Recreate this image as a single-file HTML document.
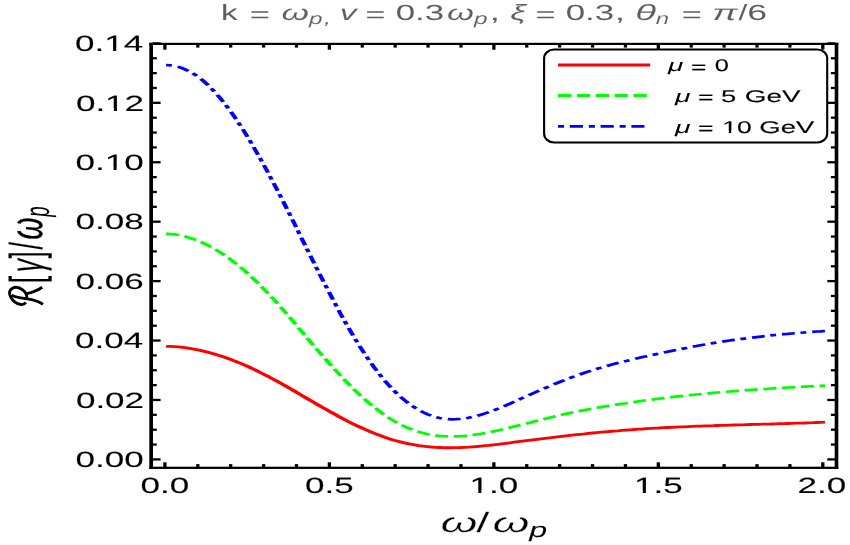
<!DOCTYPE html>
<html><head><meta charset="utf-8"><title>plot</title><style>
html,body{margin:0;padding:0;background:#fff;}
svg{display:block;}
text{font-family:"Liberation Sans",sans-serif;text-rendering:geometricPrecision;font-kerning:none;}
.i{font-style:italic;}
</style></head><body>
<svg width="850" height="545" viewBox="0 0 850 545" style="will-change:transform">
<rect x="0" y="0" width="850" height="545" fill="#ffffff"/>
<g transform="scale(1.6,1)" fill="none" stroke-width="2.7" stroke-linejoin="round">
<path d="M103.8,346.3 L106.3,346.4 L108.9,346.6 L111.5,346.9 L114.1,347.4 L116.7,347.9 L119.3,348.6 L121.9,349.3 L124.5,350.2 L127.1,351.1 L129.7,352.1 L132.2,353.2 L134.8,354.4 L137.4,355.7 L140.0,357.1 L142.6,358.6 L145.2,360.1 L147.8,361.7 L150.4,363.4 L153.0,365.2 L155.6,367.0 L158.1,368.9 L160.7,370.9 L163.3,373.0 L165.9,375.1 L168.5,377.2 L171.1,379.5 L173.7,381.7 L176.3,384.0 L178.9,386.4 L181.5,388.7 L184.1,391.1 L186.6,393.5 L189.2,396.0 L191.8,398.4 L194.4,400.8 L197.0,403.2 L199.6,405.6 L202.2,408.0 L204.8,410.3 L207.4,412.7 L210.0,414.9 L212.5,417.2 L215.1,419.4 L217.7,421.5 L220.3,423.6 L222.9,425.6 L225.5,427.5 L228.1,429.4 L230.7,431.2 L233.3,432.9 L235.9,434.6 L238.5,436.1 L241.0,437.6 L243.6,438.9 L246.2,440.2 L248.8,441.3 L251.4,442.4 L254.0,443.3 L256.6,444.2 L259.2,444.9 L261.8,445.6 L264.4,446.2 L266.9,446.6 L269.5,447.0 L272.1,447.3 L274.7,447.5 L277.3,447.7 L279.9,447.7 L282.5,447.7 L285.1,447.6 L287.7,447.5 L290.3,447.3 L292.8,447.1 L295.4,446.8 L298.0,446.5 L300.6,446.1 L303.2,445.7 L305.8,445.3 L308.4,444.8 L311.0,444.3 L313.6,443.8 L316.2,443.3 L318.8,442.8 L321.3,442.2 L323.9,441.7 L326.5,441.2 L329.1,440.6 L331.7,440.1 L334.3,439.6 L336.9,439.1 L339.5,438.6 L342.1,438.1 L344.7,437.6 L347.2,437.1 L349.8,436.6 L352.4,436.1 L355.0,435.6 L357.6,435.2 L360.2,434.7 L362.8,434.3 L365.4,433.9 L368.0,433.4 L370.6,433.0 L373.2,432.6 L375.7,432.2 L378.3,431.8 L380.9,431.5 L383.5,431.1 L386.1,430.8 L388.7,430.4 L391.3,430.1 L393.9,429.8 L396.5,429.5 L399.1,429.2 L401.6,429.0 L404.2,428.7 L406.8,428.4 L409.4,428.2 L412.0,428.0 L414.6,427.7 L417.2,427.5 L419.8,427.3 L422.4,427.1 L425.0,426.9 L427.6,426.8 L430.1,426.6 L432.7,426.4 L435.3,426.2 L437.9,426.1 L440.5,425.9 L443.1,425.8 L445.7,425.7 L448.3,425.5 L450.9,425.4 L453.5,425.3 L456.0,425.1 L458.6,425.0 L461.2,424.9 L463.8,424.8 L466.4,424.6 L469.0,424.5 L471.6,424.4 L474.2,424.3 L476.8,424.2 L479.4,424.1 L481.9,424.0 L484.5,423.8 L487.1,423.7 L489.7,423.6 L492.3,423.5 L494.9,423.4 L497.5,423.2 L500.1,423.1 L502.7,423.0 L505.3,422.8 L507.9,422.7 L510.4,422.5 L513.0,422.4 L515.6,422.2" stroke="#ff0000" stroke-width="2.85"/>
<path d="M103.8,233.7 L106.3,234.0 L108.9,234.4 L111.5,235.0 L114.1,235.9 L116.7,236.9 L119.3,238.2 L121.9,239.6 L124.5,241.2 L127.1,243.1 L129.7,245.1 L132.2,247.2 L134.8,249.6 L137.4,252.1 L140.0,254.8 L142.6,257.7 L145.2,260.8 L147.8,264.0 L150.4,267.3 L153.0,270.8 L155.6,274.5 L158.1,278.3 L160.7,282.3 L163.3,286.4 L165.9,290.6 L168.5,295.0 L171.1,299.4 L173.7,304.0 L176.3,308.7 L178.9,313.4 L181.5,318.2 L184.1,323.0 L186.6,327.9 L189.2,332.7 L191.8,337.6 L194.4,342.5 L197.0,347.3 L199.6,352.1 L202.2,356.8 L204.8,361.5 L207.4,366.1 L210.0,370.7 L212.5,375.1 L215.1,379.5 L217.7,383.7 L220.3,387.9 L222.9,391.9 L225.5,395.8 L228.1,399.5 L230.7,403.1 L233.3,406.5 L235.9,409.7 L238.5,412.8 L241.0,415.7 L243.6,418.4 L246.2,420.9 L248.8,423.2 L251.4,425.3 L254.0,427.3 L256.6,429.0 L259.2,430.5 L261.8,431.9 L264.4,433.0 L266.9,434.0 L269.5,434.8 L272.1,435.4 L274.7,435.9 L277.3,436.2 L279.9,436.4 L282.5,436.5 L285.1,436.4 L287.7,436.2 L290.3,435.9 L292.8,435.5 L295.4,435.0 L298.0,434.4 L300.6,433.8 L303.2,433.0 L305.8,432.2 L308.4,431.4 L311.0,430.5 L313.6,429.5 L316.2,428.6 L318.8,427.6 L321.3,426.5 L323.9,425.5 L326.5,424.5 L329.1,423.4 L331.7,422.4 L334.3,421.3 L336.9,420.3 L339.5,419.2 L342.1,418.2 L344.7,417.2 L347.2,416.2 L349.8,415.2 L352.4,414.3 L355.0,413.4 L357.6,412.5 L360.2,411.7 L362.8,410.9 L365.4,410.1 L368.0,409.3 L370.6,408.5 L373.2,407.8 L375.7,407.1 L378.3,406.4 L380.9,405.7 L383.5,405.1 L386.1,404.4 L388.7,403.8 L391.3,403.2 L393.9,402.5 L396.5,402.0 L399.1,401.4 L401.6,400.8 L404.2,400.2 L406.8,399.7 L409.4,399.2 L412.0,398.7 L414.6,398.1 L417.2,397.7 L419.8,397.2 L422.4,396.7 L425.0,396.2 L427.6,395.8 L430.1,395.3 L432.7,394.9 L435.3,394.5 L437.9,394.1 L440.5,393.7 L443.1,393.3 L445.7,392.9 L448.3,392.5 L450.9,392.2 L453.5,391.8 L456.0,391.5 L458.6,391.1 L461.2,390.8 L463.8,390.5 L466.4,390.2 L469.0,389.9 L471.6,389.6 L474.2,389.3 L476.8,389.0 L479.4,388.8 L481.9,388.5 L484.5,388.2 L487.1,388.0 L489.7,387.8 L492.3,387.5 L494.9,387.3 L497.5,387.1 L500.1,386.8 L502.7,386.6 L505.3,386.4 L507.9,386.2 L510.4,386.0 L513.0,385.8 L515.6,385.7" stroke="#00ff00" stroke-dasharray="8.208 3.560"/>
<path d="M103.8,65.0 L106.3,65.3 L108.9,65.9 L111.5,66.9 L114.1,68.3 L116.7,70.1 L119.3,72.2 L121.9,74.7 L124.5,77.6 L127.1,80.9 L129.7,84.6 L132.2,88.6 L134.8,93.0 L137.4,97.7 L140.0,102.8 L142.6,108.1 L145.2,113.8 L147.8,119.7 L150.4,126.0 L153.0,132.4 L155.6,139.1 L158.1,146.0 L160.7,153.1 L163.3,160.4 L165.9,167.9 L168.5,175.6 L171.1,183.4 L173.7,191.3 L176.3,199.3 L178.9,207.5 L181.5,215.7 L184.1,223.9 L186.6,232.2 L189.2,240.5 L191.8,248.8 L194.4,257.1 L197.0,265.3 L199.6,273.5 L202.2,281.6 L204.8,289.6 L207.4,297.5 L210.0,305.2 L212.5,312.8 L215.1,320.3 L217.7,327.5 L220.3,334.5 L222.9,341.3 L225.5,347.9 L228.1,354.2 L230.7,360.3 L233.3,366.1 L235.9,371.6 L238.5,376.8 L241.0,381.7 L243.6,386.3 L246.2,390.6 L248.8,394.6 L251.4,398.3 L254.0,401.7 L256.6,404.8 L259.2,407.5 L261.8,410.0 L264.4,412.2 L266.9,414.1 L269.5,415.7 L272.1,417.0 L274.7,418.0 L277.3,418.7 L279.9,419.1 L282.5,419.3 L285.1,419.2 L287.7,419.0 L290.3,418.5 L292.8,417.8 L295.4,416.9 L298.0,415.9 L300.6,414.7 L303.2,413.4 L305.8,412.0 L308.4,410.4 L311.0,408.8 L313.6,407.1 L316.2,405.4 L318.8,403.6 L321.3,401.7 L323.9,399.9 L326.5,398.0 L329.1,396.2 L331.7,394.3 L334.3,392.5 L336.9,390.7 L339.5,388.9 L342.1,387.1 L344.7,385.4 L347.2,383.7 L349.8,382.0 L352.4,380.4 L355.0,378.7 L357.6,377.2 L360.2,375.7 L362.8,374.2 L365.4,372.8 L368.0,371.4 L370.6,370.1 L373.2,368.8 L375.7,367.6 L378.3,366.4 L380.9,365.2 L383.5,364.1 L386.1,363.0 L388.7,362.0 L391.3,361.0 L393.9,360.0 L396.5,359.0 L399.1,358.0 L401.6,357.1 L404.2,356.2 L406.8,355.3 L409.4,354.4 L412.0,353.5 L414.6,352.6 L417.2,351.7 L419.8,350.9 L422.4,350.0 L425.0,349.2 L427.6,348.4 L430.1,347.5 L432.7,346.7 L435.3,346.0 L437.9,345.2 L440.5,344.5 L443.1,343.8 L445.7,343.1 L448.3,342.4 L450.9,341.7 L453.5,341.1 L456.0,340.5 L458.6,339.9 L461.2,339.3 L463.8,338.8 L466.4,338.3 L469.0,337.8 L471.6,337.3 L474.2,336.8 L476.8,336.3 L479.4,335.9 L481.9,335.4 L484.5,335.0 L487.1,334.6 L489.7,334.2 L492.3,333.9 L494.9,333.5 L497.5,333.1 L500.1,332.8 L502.7,332.5 L505.3,332.2 L507.9,331.8 L510.4,331.5 L513.0,331.3 L515.6,331.0" stroke="#0000ff" stroke-dasharray="3.670 3.769 8.035 3.571"/>
</g>
<g fill="#000">
<rect x="149.3" y="42.8" width="3.70" height="426.15"/>
<rect x="834.7" y="42.8" width="3.60" height="426.15"/>
<rect x="149.3" y="42.8" width="689.00" height="2.20"/>
<rect x="149.3" y="466.7" width="689.00" height="2.25"/>
<rect x="152.50" y="458.25" width="8.10" height="2.3"/>
<rect x="827.30" y="458.25" width="7.90" height="2.3"/>
<rect x="152.50" y="443.39" width="4.30" height="2.3"/>
<rect x="830.90" y="443.39" width="4.30" height="2.3"/>
<rect x="152.50" y="428.54" width="4.30" height="2.3"/>
<rect x="830.90" y="428.54" width="4.30" height="2.3"/>
<rect x="152.50" y="413.68" width="4.30" height="2.3"/>
<rect x="830.90" y="413.68" width="4.30" height="2.3"/>
<rect x="152.50" y="398.82" width="8.10" height="2.3"/>
<rect x="827.30" y="398.82" width="7.90" height="2.3"/>
<rect x="152.50" y="383.96" width="4.30" height="2.3"/>
<rect x="830.90" y="383.96" width="4.30" height="2.3"/>
<rect x="152.50" y="369.11" width="4.30" height="2.3"/>
<rect x="830.90" y="369.11" width="4.30" height="2.3"/>
<rect x="152.50" y="354.25" width="4.30" height="2.3"/>
<rect x="830.90" y="354.25" width="4.30" height="2.3"/>
<rect x="152.50" y="339.39" width="8.10" height="2.3"/>
<rect x="827.30" y="339.39" width="7.90" height="2.3"/>
<rect x="152.50" y="324.54" width="4.30" height="2.3"/>
<rect x="830.90" y="324.54" width="4.30" height="2.3"/>
<rect x="152.50" y="309.68" width="4.30" height="2.3"/>
<rect x="830.90" y="309.68" width="4.30" height="2.3"/>
<rect x="152.50" y="294.82" width="4.30" height="2.3"/>
<rect x="830.90" y="294.82" width="4.30" height="2.3"/>
<rect x="152.50" y="279.96" width="8.10" height="2.3"/>
<rect x="827.30" y="279.96" width="7.90" height="2.3"/>
<rect x="152.50" y="265.11" width="4.30" height="2.3"/>
<rect x="830.90" y="265.11" width="4.30" height="2.3"/>
<rect x="152.50" y="250.25" width="4.30" height="2.3"/>
<rect x="830.90" y="250.25" width="4.30" height="2.3"/>
<rect x="152.50" y="235.39" width="4.30" height="2.3"/>
<rect x="830.90" y="235.39" width="4.30" height="2.3"/>
<rect x="152.50" y="220.54" width="8.10" height="2.3"/>
<rect x="827.30" y="220.54" width="7.90" height="2.3"/>
<rect x="152.50" y="205.68" width="4.30" height="2.3"/>
<rect x="830.90" y="205.68" width="4.30" height="2.3"/>
<rect x="152.50" y="190.82" width="4.30" height="2.3"/>
<rect x="830.90" y="190.82" width="4.30" height="2.3"/>
<rect x="152.50" y="175.96" width="4.30" height="2.3"/>
<rect x="830.90" y="175.96" width="4.30" height="2.3"/>
<rect x="152.50" y="161.11" width="8.10" height="2.3"/>
<rect x="827.30" y="161.11" width="7.90" height="2.3"/>
<rect x="152.50" y="146.25" width="4.30" height="2.3"/>
<rect x="830.90" y="146.25" width="4.30" height="2.3"/>
<rect x="152.50" y="131.39" width="4.30" height="2.3"/>
<rect x="830.90" y="131.39" width="4.30" height="2.3"/>
<rect x="152.50" y="116.54" width="4.30" height="2.3"/>
<rect x="830.90" y="116.54" width="4.30" height="2.3"/>
<rect x="152.50" y="101.68" width="8.10" height="2.3"/>
<rect x="827.30" y="101.68" width="7.90" height="2.3"/>
<rect x="152.50" y="86.82" width="4.30" height="2.3"/>
<rect x="830.90" y="86.82" width="4.30" height="2.3"/>
<rect x="152.50" y="71.96" width="4.30" height="2.3"/>
<rect x="830.90" y="71.96" width="4.30" height="2.3"/>
<rect x="152.50" y="57.11" width="4.30" height="2.3"/>
<rect x="830.90" y="57.11" width="4.30" height="2.3"/>
<rect x="152.50" y="42.25" width="8.10" height="2.3"/>
<rect x="827.30" y="42.25" width="7.90" height="2.3"/>
<rect x="163.25" y="462.30" width="3.3" height="4.90"/>
<rect x="163.25" y="44.50" width="3.3" height="5.20"/>
<rect x="196.15" y="464.10" width="3.3" height="3.10"/>
<rect x="196.15" y="44.50" width="3.3" height="3.10"/>
<rect x="229.04" y="464.10" width="3.3" height="3.10"/>
<rect x="229.04" y="44.50" width="3.3" height="3.10"/>
<rect x="261.94" y="464.10" width="3.3" height="3.10"/>
<rect x="261.94" y="44.50" width="3.3" height="3.10"/>
<rect x="294.83" y="464.10" width="3.3" height="3.10"/>
<rect x="294.83" y="44.50" width="3.3" height="3.10"/>
<rect x="327.73" y="462.30" width="3.3" height="4.90"/>
<rect x="327.73" y="44.50" width="3.3" height="5.20"/>
<rect x="360.62" y="464.10" width="3.3" height="3.10"/>
<rect x="360.62" y="44.50" width="3.3" height="3.10"/>
<rect x="393.52" y="464.10" width="3.3" height="3.10"/>
<rect x="393.52" y="44.50" width="3.3" height="3.10"/>
<rect x="426.41" y="464.10" width="3.3" height="3.10"/>
<rect x="426.41" y="44.50" width="3.3" height="3.10"/>
<rect x="459.31" y="464.10" width="3.3" height="3.10"/>
<rect x="459.31" y="44.50" width="3.3" height="3.10"/>
<rect x="492.20" y="462.30" width="3.3" height="4.90"/>
<rect x="492.20" y="44.50" width="3.3" height="5.20"/>
<rect x="525.10" y="464.10" width="3.3" height="3.10"/>
<rect x="525.10" y="44.50" width="3.3" height="3.10"/>
<rect x="557.99" y="464.10" width="3.3" height="3.10"/>
<rect x="557.99" y="44.50" width="3.3" height="3.10"/>
<rect x="590.88" y="464.10" width="3.3" height="3.10"/>
<rect x="590.88" y="44.50" width="3.3" height="3.10"/>
<rect x="623.78" y="464.10" width="3.3" height="3.10"/>
<rect x="623.78" y="44.50" width="3.3" height="3.10"/>
<rect x="656.67" y="462.30" width="3.3" height="4.90"/>
<rect x="656.67" y="44.50" width="3.3" height="5.20"/>
<rect x="689.57" y="464.10" width="3.3" height="3.10"/>
<rect x="689.57" y="44.50" width="3.3" height="3.10"/>
<rect x="722.47" y="464.10" width="3.3" height="3.10"/>
<rect x="722.47" y="44.50" width="3.3" height="3.10"/>
<rect x="755.36" y="464.10" width="3.3" height="3.10"/>
<rect x="755.36" y="44.50" width="3.3" height="3.10"/>
<rect x="788.25" y="464.10" width="3.3" height="3.10"/>
<rect x="788.25" y="44.50" width="3.3" height="3.10"/>
<rect x="821.15" y="462.30" width="3.3" height="4.90"/>
<rect x="821.15" y="44.50" width="3.3" height="5.20"/>
</g>
<g fill="#000" stroke="#000" stroke-width="0.08" font-size="22.0">
<text transform="translate(75.49,467.15) scale(1.593,1)">0.00</text>
<text transform="translate(75.89,407.72) scale(1.593,1)">0.02</text>
<text transform="translate(75.09,348.29) scale(1.593,1)">0.04</text>
<text transform="translate(75.49,288.86) scale(1.593,1)">0.06</text>
<text transform="translate(75.49,229.44) scale(1.593,1)">0.08</text>
<text transform="translate(75.49,170.01) scale(1.593,1)">0.10</text>
<rect x="106.69" y="167.46" width="6.84" height="3.34" fill="#fff" stroke="none"/>
<rect x="116.63" y="167.46" width="6.57" height="3.34" fill="#fff" stroke="none"/>
<text transform="translate(75.89,110.58) scale(1.593,1)">0.12</text>
<rect x="107.09" y="108.04" width="6.84" height="3.34" fill="#fff" stroke="none"/>
<rect x="117.03" y="108.04" width="6.57" height="3.34" fill="#fff" stroke="none"/>
<text transform="translate(75.09,51.15) scale(1.593,1)">0.14</text>
<rect x="106.29" y="48.61" width="6.84" height="3.34" fill="#fff" stroke="none"/>
<rect x="116.23" y="48.61" width="6.57" height="3.34" fill="#fff" stroke="none"/>
<text transform="translate(140.54,493.0) scale(1.593,1)">0.0</text>
<text transform="translate(305.01,493.0) scale(1.593,1)">0.5</text>
<text transform="translate(469.49,493.0) scale(1.593,1)">1.0</text>
<rect x="471.46" y="490.46" width="6.84" height="3.34" fill="#fff" stroke="none"/>
<rect x="481.40" y="490.46" width="6.57" height="3.34" fill="#fff" stroke="none"/>
<text transform="translate(633.96,493.0) scale(1.593,1)">1.5</text>
<rect x="635.93" y="490.46" width="6.84" height="3.34" fill="#fff" stroke="none"/>
<rect x="645.87" y="490.46" width="6.57" height="3.34" fill="#fff" stroke="none"/>
<text transform="translate(797.44,493.0) scale(1.593,1)">2.0</text>
</g>
<g fill="#5e5e5e">
<text transform="translate(221.03,20.30) scale(1.516,1)" font-size="22.0">k</text>
<text transform="translate(249.73,21.62) scale(1.572,1)" font-size="22.0">=</text>
<text transform="translate(281.60,20.30) scale(1.600,1)" font-size="22.0" class="i" stroke="#fff" stroke-width="0.08">ω</text>
<text transform="translate(309.07,24.00) scale(1.497,1)" font-size="16.3" class="i" stroke="#fff" stroke-width="0.08">p</text>
<text transform="translate(323.90,24.00) scale(1.600,1)" font-size="16.3" class="i" stroke="#fff" stroke-width="0.08">,</text>
<text transform="translate(339.67,20.30) scale(1.543,1)" font-size="22.0" class="i" stroke="#fff" stroke-width="0.08">v</text>
<text transform="translate(365.56,21.62) scale(1.544,1)" font-size="22.0">=</text>
<text transform="translate(395.71,20.30) scale(1.586,1)" font-size="22.0">0.3</text>
<text transform="translate(447.12,20.30) scale(1.568,1)" font-size="22.0" class="i" stroke="#fff" stroke-width="0.08">ω</text>
<text transform="translate(474.07,24.00) scale(1.497,1)" font-size="16.3" class="i" stroke="#fff" stroke-width="0.08">p</text>
<text transform="translate(489.53,20.30) scale(1.733,1)" font-size="22.0">,</text>
<text transform="translate(510.20,20.30) scale(1.600,1)" font-size="22.0" class="i" stroke="#fff" stroke-width="0.08">ξ</text>
<text transform="translate(535.44,21.62) scale(1.563,1)" font-size="22.0">=</text>
<text transform="translate(565.71,20.30) scale(1.586,1)" font-size="22.0">0.3</text>
<text transform="translate(614.82,20.30) scale(1.689,1)" font-size="22.0">,</text>
<text transform="translate(635.32,20.30) scale(1.743,1)" font-size="22.0" class="i" stroke="#fff" stroke-width="0.08">θ</text>
<text transform="translate(655.86,24.00) scale(1.471,1)" font-size="16.3" class="i" stroke="#fff" stroke-width="0.08">n</text>
<text transform="translate(681.64,21.62) scale(1.563,1)" font-size="22.0">=</text>
<text transform="translate(712.25,20.30) scale(1.724,1)" font-size="22.0" class="i" stroke="#fff" stroke-width="0.08">π</text>
<text transform="translate(738.60,20.30) scale(1.433,1)" font-size="22.0">/</text>
<text transform="translate(747.18,20.30) scale(1.620,1)" font-size="22.0">6</text>
</g>
<g fill="#000">
<text transform="translate(440.60,532.10) scale(1.696,1)" font-size="28.0" class="i" stroke="#fff" stroke-width="0.28">ω</text>
<text transform="translate(476.18,532.10) scale(1.683,1)" font-size="28.0" stroke="#fff" stroke-width="0.2">/</text>
<text transform="translate(492.40,532.10) scale(1.696,1)" font-size="28.0" class="i" stroke="#fff" stroke-width="0.28">ω</text>
<text transform="translate(529.17,537.10) scale(1.539,1)" font-size="21.0" class="i">p</text>
</g>
<g fill="#000">
<text transform="translate(42.30,282.94) scale(1.64,0.922) rotate(-90)" font-size="28.0" stroke="#000" stroke-width="0.2">[</text>
<text transform="translate(42.30,272.22) scale(1.64,0.945) rotate(-90)" font-size="28.0" class="i" stroke="#000" stroke-width="0.1">γ</text>
<text transform="translate(42.30,258.30) scale(1.64,0.867) rotate(-90)" font-size="28.0" stroke="#000" stroke-width="0.2">]</text>
<text transform="translate(42.30,249.40) scale(1.64,0.942) rotate(-90)" font-size="28.0" stroke="#000" stroke-width="0.15">/</text>
<text transform="translate(42.30,239.55) scale(1.64,1.002) rotate(-90)" font-size="28.0" class="i" stroke="#000" stroke-width="0.25">ω</text>
<text transform="translate(49.10,216.86) scale(1.64,0.887) rotate(-90)" font-size="21.0" class="i">p</text>
</g>
<g fill="none" stroke="#000" stroke-width="2.9" stroke-linecap="butt" stroke-linejoin="round">
<path d="M25.8,302.5 C24.8,304.0 22.8,304.8 20.6,304.5 C16.4,303.9 12.4,300.4 10.5,296.7 C8.8,293.2 9.5,289.9 12.4,288.2 C15.5,286.6 19.8,287.6 23.0,290.1 C25.8,292.3 27.0,295.1 26.7,298.2"/>
<path d="M11.6,295.2 C15.5,297.2 21.5,298.1 27.5,298.9 C33.5,299.6 38.8,301.6 43.0,304.2"/>
<path d="M26.6,293.7 C32.0,292.6 37.6,290.4 42.2,287.2"/>
</g>
<rect x="544.1" y="49.5" width="283.1" height="93.0" rx="10" ry="9" fill="#fff" stroke="#000" stroke-width="2.1"/>
<g fill="none" stroke-width="2.8">
<path d="M558,65.05 H650.2" stroke="#ff0000" stroke-width="2.9"/>
<path d="M558,95.5 H647" stroke="#00ff00" stroke-dasharray="13.25 5.62"/>
<path d="M558,126.3 H644.5" stroke="#0000ff" stroke-dasharray="6.1 5.7 13.2 5.8"/>
</g>
<g fill="#000">
<text transform="translate(668.01,71.30) scale(1.643,1)" font-size="17.0" class="i">μ</text>
<text transform="translate(690.94,72.80) scale(1.553,1)" font-size="17.0" stroke="#000" stroke-width="0.1">=</text>
<text transform="translate(714.65,71.30) scale(1.491,1)" font-size="17.0" stroke="#000" stroke-width="0.1">0</text>
<text transform="translate(674.92,101.90) scale(1.665,1)" font-size="17.0" class="i">μ</text>
<text transform="translate(698.03,103.40) scale(1.565,1)" font-size="17.0" stroke="#000" stroke-width="0.1">=</text>
<text transform="translate(720.99,101.90) scale(1.613,1)" font-size="17.0" stroke="#000" stroke-width="0.1">5</text>
<text transform="translate(744.87,101.90) scale(1.639,1)" font-size="17.0" stroke="#000" stroke-width="0.1">GeV</text>
<text transform="translate(674.92,132.90) scale(1.665,1)" font-size="17.0" class="i">μ</text>
<text transform="translate(698.03,134.40) scale(1.565,1)" font-size="17.0" stroke="#000" stroke-width="0.1">=</text>
<text transform="translate(722.15,132.90) scale(1.559,1)" font-size="17.0" stroke="#000" stroke-width="0.1">10</text>
<rect x="723.47" y="130.73" width="5.35" height="2.97" fill="#fff" stroke="none"/>
<rect x="731.16" y="130.73" width="5.14" height="2.97" fill="#fff" stroke="none"/>
<text transform="translate(759.29,132.90) scale(1.618,1)" font-size="17.0" stroke="#000" stroke-width="0.1">GeV</text>
</g>
</svg></body></html>
